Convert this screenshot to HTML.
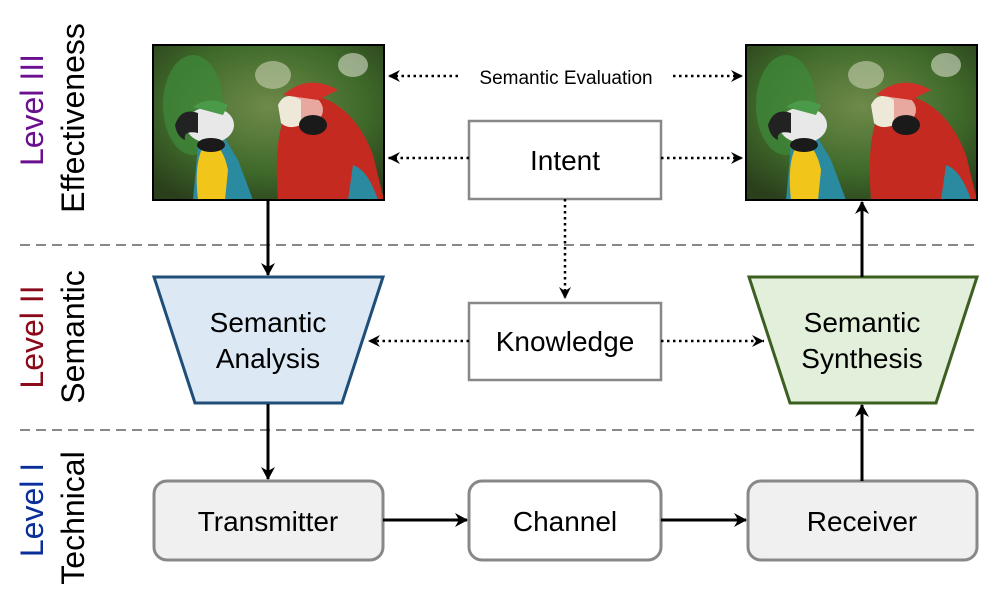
<!DOCTYPE html>
<html><head><meta charset="utf-8"><style>
html,body{margin:0;padding:0;background:#fff}
text{font-family:"Liberation Sans",Arial,sans-serif}
</style></head><body>
<svg width="996" height="605" viewBox="0 0 996 605" xmlns="http://www.w3.org/2000/svg">
<defs>
<marker id="a" markerWidth="14" markerHeight="14" refX="12" refY="7" orient="auto" markerUnits="userSpaceOnUse"><path d="M0,0 L13,7 L0,14 L4,7 Z" fill="#000"/></marker>
<marker id="d" markerWidth="14" markerHeight="14" refX="12" refY="7" orient="auto" markerUnits="userSpaceOnUse"><path d="M0,1 L12,7 L0,13 L4,7 Z" fill="#000"/></marker>
<radialGradient id="bg" cx="0.5" cy="0.4" r="0.7"><stop offset="0" stop-color="#6f8a4a"/><stop offset="0.6" stop-color="#3f6a2a"/><stop offset="1" stop-color="#2a3f1c"/></radialGradient>
<g id="par">
<rect x="0" y="0" width="231" height="155" fill="url(#bg)"/>
<ellipse cx="40" cy="60" rx="30" ry="50" fill="#3d8a3a" opacity="0.7"/>
<ellipse cx="120" cy="30" rx="18" ry="14" fill="#c8d0b0" opacity="0.6"/>
<ellipse cx="200" cy="20" rx="15" ry="12" fill="#d8dccc" opacity="0.6"/>
<path d="M40,155 L45,100 Q50,80 70,90 L85,115 L100,155 Z" fill="#2a8aa0"/>
<path d="M45,155 Q40,110 55,95 Q70,100 75,125 L72,155 Z" fill="#f2c51a"/>
<ellipse cx="57" cy="80" rx="24" ry="18" fill="#e8e8e8"/>
<path d="M40,62 Q55,50 75,60 L70,70 Z" fill="#4a9a4a"/>
<path d="M22,80 Q28,62 45,68 L45,88 Q30,85 32,95 Q24,92 22,80 Z" fill="#222"/>
<ellipse cx="58" cy="100" rx="14" ry="7" fill="#1a1a1a"/>
<path d="M125,155 Q120,90 135,65 Q150,45 175,55 Q205,70 220,110 L231,155 Z" fill="#c42a20"/>
<path d="M200,120 Q215,125 225,155 L195,155 Z" fill="#2a8aa0"/>
<ellipse cx="150" cy="65" rx="20" ry="16" fill="#e8a8a0"/>
<path d="M125,60 Q132,45 148,55 L148,80 Q135,85 128,78 Z" fill="#eee8d8"/>
<ellipse cx="160" cy="80" rx="14" ry="10" fill="#1a1a1a"/>
<path d="M130,50 Q155,28 185,45 L165,55 Z" fill="#d03028"/>
</g>
</defs>
<line x1="20" y1="245" x2="980" y2="245" stroke="#888" stroke-width="2" stroke-dasharray="10,6"/>
<line x1="20" y1="430" x2="980" y2="430" stroke="#888" stroke-width="2" stroke-dasharray="10,6"/>
<g font-size="32">
<text transform="translate(43,110) rotate(-90)" text-anchor="middle" fill="#6a0f8e">Level III</text>
<text transform="translate(84,118) rotate(-90)" text-anchor="middle" fill="#000">Effectiveness</text>
<text transform="translate(43,337) rotate(-90)" text-anchor="middle" fill="#8b0a1a">Level II</text>
<text transform="translate(84,337) rotate(-90)" text-anchor="middle" fill="#000">Semantic</text>
<text transform="translate(43,510) rotate(-90)" text-anchor="middle" fill="#0a2e9a">Level I</text>
<text transform="translate(84,518) rotate(-90)" text-anchor="middle" fill="#000">Technical</text>
</g>
<use href="#par" x="153" y="45"/>
<rect x="153" y="45" width="231" height="155" fill="none" stroke="#000" stroke-width="2"/>
<use href="#par" x="746" y="45"/>
<rect x="746" y="45" width="231" height="155" fill="none" stroke="#000" stroke-width="2"/>
<text x="566" y="84" font-size="19" text-anchor="middle">Semantic Evaluation</text>
<line x1="458" y1="76" x2="388" y2="76" stroke="#000" stroke-width="2.5" stroke-dasharray="2.5,3.5" marker-end="url(#d)"/>
<line x1="673" y1="76" x2="743" y2="76" stroke="#000" stroke-width="2.5" stroke-dasharray="2.5,3.5" marker-end="url(#d)"/>
<rect x="469" y="121" width="192" height="78" fill="#fff" stroke="#888" stroke-width="2.5"/>
<text x="565" y="170" font-size="28" text-anchor="middle">Intent</text>
<line x1="469" y1="158" x2="388" y2="158" stroke="#000" stroke-width="2.5" stroke-dasharray="2.5,3.5" marker-end="url(#d)"/>
<line x1="661" y1="158" x2="743" y2="158" stroke="#000" stroke-width="2.5" stroke-dasharray="2.5,3.5" marker-end="url(#d)"/>
<line x1="565" y1="199" x2="565" y2="299" stroke="#000" stroke-width="2.5" stroke-dasharray="2.5,3.5" marker-end="url(#d)"/>
<rect x="469" y="303" width="192" height="77" fill="#fff" stroke="#888" stroke-width="2.5"/>
<text x="565" y="351" font-size="28" text-anchor="middle">Knowledge</text>
<line x1="469" y1="341" x2="368" y2="341" stroke="#000" stroke-width="2.5" stroke-dasharray="2.5,3.5" marker-end="url(#d)"/>
<line x1="661" y1="341" x2="764" y2="341" stroke="#000" stroke-width="2.5" stroke-dasharray="2.5,3.5" marker-end="url(#d)"/>
<path d="M154,277 L383,277 L342,403 L195,403 Z" fill="#dce8f4" stroke="#1f4e79" stroke-width="3"/>
<text x="268" y="332" font-size="28" text-anchor="middle">Semantic</text>
<text x="268" y="368" font-size="28" text-anchor="middle">Analysis</text>
<path d="M749,277 L977,277 L936,403 L790,403 Z" fill="#e2efda" stroke="#3d5f22" stroke-width="3"/>
<text x="862" y="332" font-size="28" text-anchor="middle">Semantic</text>
<text x="862" y="368" font-size="28" text-anchor="middle">Synthesis</text>
<rect x="154" y="481" width="229" height="79" rx="13" fill="#f0f0f0" stroke="#888" stroke-width="3"/>
<text x="268" y="531" font-size="28" text-anchor="middle">Transmitter</text>
<rect x="469" y="481" width="192" height="79" rx="13" fill="#fff" stroke="#888" stroke-width="3"/>
<text x="565" y="531" font-size="28" text-anchor="middle">Channel</text>
<rect x="748" y="481" width="229" height="79" rx="13" fill="#f0f0f0" stroke="#888" stroke-width="3"/>
<text x="862" y="531" font-size="28" text-anchor="middle">Receiver</text>
<g stroke="#000" stroke-width="3" marker-end="url(#a)">
<line x1="268" y1="201" x2="268" y2="275"/>
<line x1="268" y1="404" x2="268" y2="479"/>
<line x1="383" y1="520" x2="467" y2="520"/>
<line x1="661" y1="520" x2="746" y2="520"/>
<line x1="862" y1="481" x2="862" y2="405"/>
<line x1="862" y1="277" x2="862" y2="202"/>
</g>
</svg>
</body></html>
